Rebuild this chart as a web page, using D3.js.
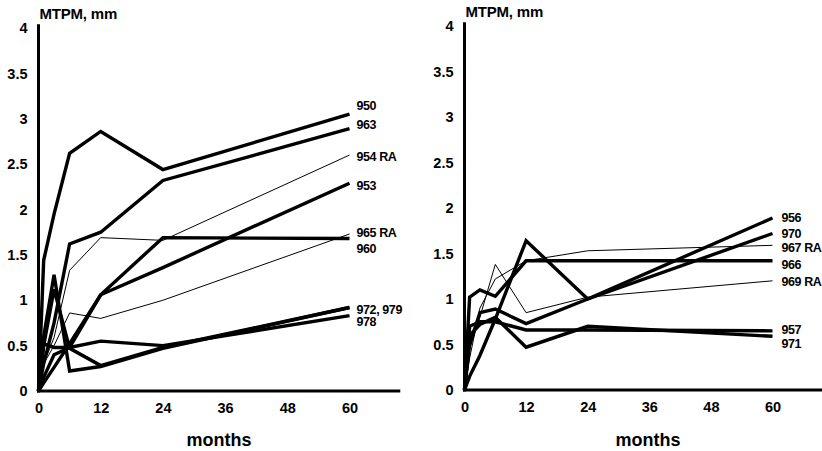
<!DOCTYPE html>
<html><head><meta charset="utf-8">
<script src="https://cdn.jsdelivr.net/npm/d3@7"></script>
<style>
html,body{margin:0;padding:0;background:#fff;}
text{font-family:"Liberation Sans",Arial,sans-serif;font-weight:bold;fill:#000;}
</style></head>
<body><svg id="c" width="822" height="451"></svg>
<script>
// ---- data ----
const months = [0, 1, 3, 6, 12, 24, 60];
const xTicks = [0, 12, 24, 36, 48, 60];
const yTicks = [0, 0.5, 1, 1.5, 2, 2.5, 3, 3.5, 4];
const yTickLabels = ["0", "0.5", "1", "1.5", "2", "2.5", "3", "3.5", "4"];

const leftNames  = ["950", "963", "954 RA", "953", "965 RA", "960", "972", "979", "978"];
const leftThin   = [false, false, true, false, true, false, false, false, false];
const left950  = [0, 1.44, 1.95, 2.62, 2.86, 2.44, 3.05];
const left963  = [0, 0.30, 0.75, 1.62, 1.75, 2.32, 2.89];
const left954  = [0, 0.30, 0.59, 1.33, 1.69, 1.66, 2.60];
const left953  = [0, 0.15, 0.40, 0.48, 1.06, 1.36, 2.29];
const left965  = [0, 0.30, 0.50, 0.86, 0.80, 1.00, 1.73];
const left960  = [0, 0.09, 0.26, 0.52, 1.06, 1.69, 1.68];
const left972  = [0, 0.60, 1.28, 0.22, 0.27, 0.47, 0.92];
const left979  = [0, 0.50, 1.12, 0.47, 0.28, 0.48, 0.92];
const left978  = [0, 0.52, 0.48, 0.48, 0.55, 0.50, 0.83];
const leftLabels = ["950", "963", "954 RA", "953", "965 RA", "960", "972, 979", "978"];
const leftLabelVals = [3.15, 2.93, 2.58, 2.26, 1.74, 1.57, 0.90, 0.76];

const rightNames = ["956", "970", "967 RA", "966", "969 RA", "957", "971"];
const rightThin  = [false, false, true, false, true, false, false];
const right956 = [0, 0.15, 0.38, 0.78, 1.64, 1.00, 1.89];
const right970 = [0, 0.50, 0.85, 0.89, 0.73, 1.00, 1.72];
const right967 = [0, 0.35, 0.90, 1.22, 1.42, 1.53, 1.59];
const right966 = [0, 1.02, 1.10, 1.03, 1.42, 1.42, 1.42];
const right969 = [0, 0.45, 0.80, 1.38, 0.85, 1.02, 1.20];
const right957 = [0, 0.70, 0.75, 0.75, 0.66, 0.66, 0.65];
const right971 = [0, 0.60, 0.72, 0.80, 0.47, 0.70, 0.59];
const rightLabels = ["956", "970", "967 RA", "966", "969 RA", "957", "971"];
const rightLabelVals = [1.89, 1.72, 1.56, 1.38, 1.19, 0.66, 0.51];

const svg = d3.select("#c");

function panel(cfg) {
  const x = d3.scaleLinear().domain([0, 60]).range([cfg.x0, cfg.x60]);
  const y = d3.scaleLinear().domain([0, 4]).range([cfg.y0, cfg.y4]);
  const g = svg.append("g");

  // axes (no tick marks)
  const ya = g.append("g").attr("transform", `translate(${x(0)},0)`)
    .call(d3.axisLeft(y).tickValues(yTicks).tickSize(0).tickPadding(cfg.yPad)
      .tickFormat((d, i) => yTickLabels[i]));
  ya.select(".domain").remove();
  ya.selectAll("text").style("font-size", "14.5px");

  const xa = g.append("g").attr("transform", `translate(0,${y(0)})`)
    .call(d3.axisBottom(x).tickValues(xTicks).tickSize(0).tickPadding(12));
  xa.select(".domain").remove();
  xa.selectAll("text").style("font-size", "14.5px");

  g.append("line").attr("x1", x(0)).attr("x2", x(0))
    .attr("y1", y(4.04)).attr("y2", y(0) + 1.5)
    .attr("stroke", "#000").attr("stroke-width", 3);
  g.append("line").attr("x1", x(0) - 1.5).attr("x2", x(cfg.xEnd))
    .attr("y1", y(0)).attr("y2", y(0))
    .attr("stroke", "#000").attr("stroke-width", 3);

  const line = d3.line().x((d, i) => x(months[i])).y(d => y(d));
  cfg.series.forEach((s, k) => {
    g.append("path").attr("d", line(s))
      .attr("fill", "none").attr("stroke", "#000")
      .attr("stroke-width", cfg.thin[k] ? 1 : 3.4)
      .attr("stroke-linejoin", "miter").attr("stroke-miterlimit", 3);
  });

  cfg.labels.forEach((t, k) => {
    g.append("text").attr("x", x(60) + cfg.labDx).attr("y", y(cfg.labelVals[k]))
      .attr("dy", "0.35em").style("font-size", "12.5px").style("letter-spacing", "-0.4px")
      .text(t);
  });

  g.append("text").attr("x", x(0) + 1).attr("y", cfg.titleY)
    .style("font-size", "15px").style("letter-spacing", "-0.2px").text("MTPM, mm");
  g.append("text").attr("x", cfg.monthsX).attr("y", 446)
    .attr("text-anchor", "middle").style("font-size", "18px").text("months");
}

panel({
  x0: 38.5, x60: 349.5, y0: 391, y4: 28, xEnd: 69.8, yPad: 11,
  series: [left950, left963, left954, left953, left965, left960, left972, left979, left978],
  thin: leftThin, labels: leftLabels, labelVals: leftLabelVals, labDx: 7,
  titleY: 19, monthsX: 219
});
panel({
  x0: 464.5, x60: 772.5, y0: 390, y4: 26, xEnd: 70, yPad: 11,
  series: [right956, right970, right967, right966, right969, right957, right971],
  thin: rightThin, labels: rightLabels, labelVals: rightLabelVals, labDx: 9,
  titleY: 17, monthsX: 648
});
</script>
</body></html>
